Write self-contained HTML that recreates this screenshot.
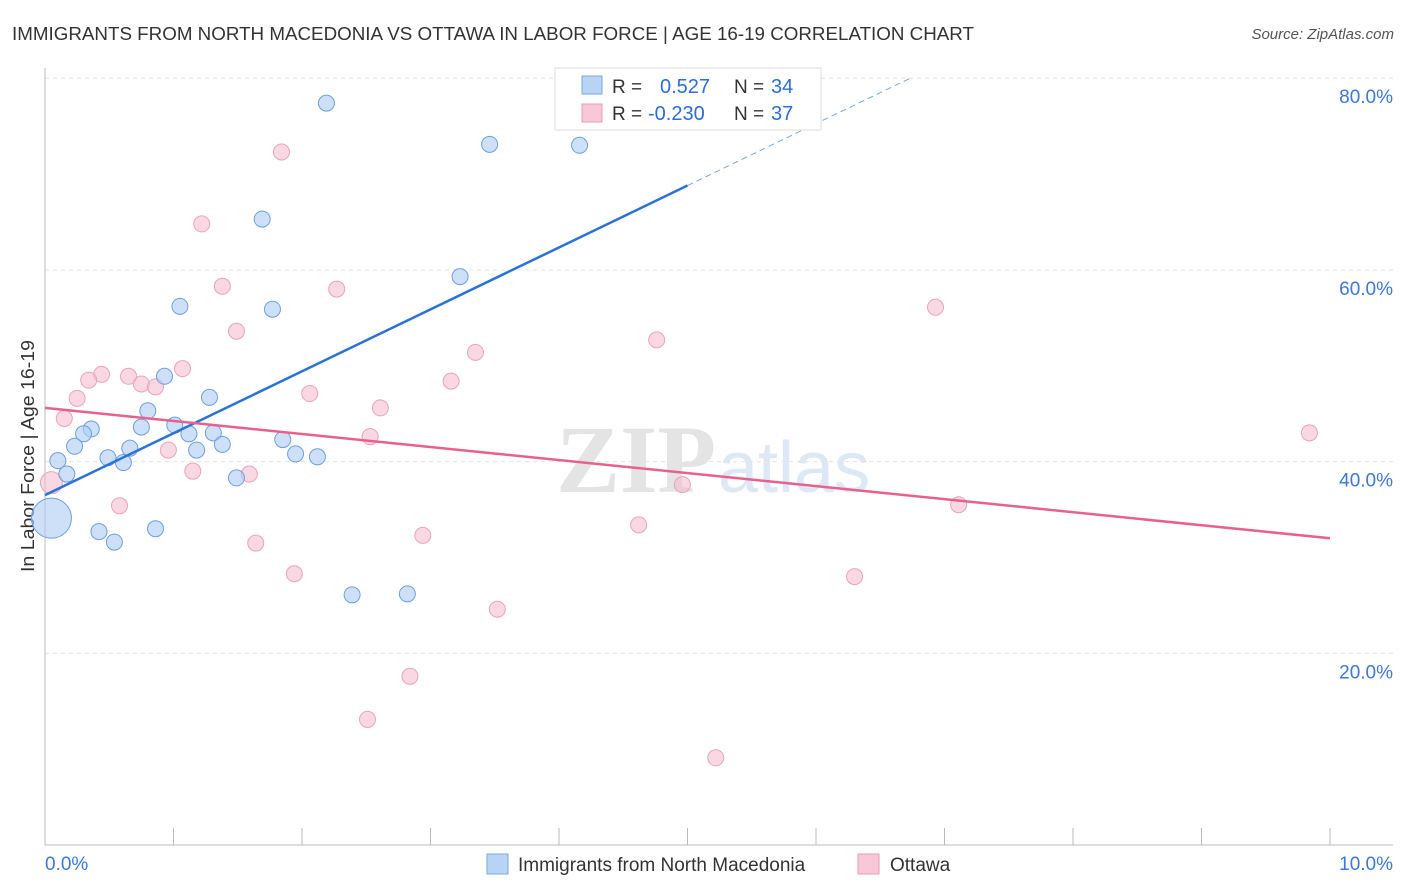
<!DOCTYPE html>
<html><head><meta charset="utf-8"><style>
body{margin:0;background:#fff;font-family:"Liberation Sans",sans-serif;}
svg{display:block}
</style></head><body>
<svg id="chart" width="1406" height="892">
<text x="12" y="40" font-size="18" fill="#333" textLength="962" lengthAdjust="spacingAndGlyphs">IMMIGRANTS FROM NORTH MACEDONIA VS OTTAWA IN LABOR FORCE | AGE 16-19 CORRELATION CHART</text>
<text x="1394" y="39" font-size="15" fill="#555" text-anchor="end" font-style="italic">Source: ZipAtlas.com</text>
<text x="34" y="456" font-size="18" fill="#333" text-anchor="middle" textLength="232" lengthAdjust="spacingAndGlyphs" transform="rotate(-90 34 456)">In Labor Force | Age 16-19</text>
<text x="716" y="492" font-size="96" fill="#e4e4e4" text-anchor="end" font-family="Liberation Serif,serif" font-weight="bold">ZIP</text>
<text x="718" y="492" font-size="72" fill="#dde8f6">atlas</text>
<g id="grid"></g><g id="marks"></g>
<g>
<rect x="555" y="68" width="266" height="62" fill="#fff" stroke="#ddd"/>
<rect x="582" y="76" width="20" height="18" fill="#b8d4f5" stroke="#7aa8e3"/>
<rect x="582" y="104" width="20" height="18" fill="#f8c8d8" stroke="#e99bb4"/>
<text x="612" y="93" font-size="19" fill="#333">R =</text><text x="660" y="93" font-size="20" fill="#2a6fd6">0.527</text>
<text x="734" y="93" font-size="19" fill="#333">N =</text><text x="771" y="93" font-size="20" fill="#2a6fd6">34</text>
<text x="612" y="120" font-size="19" fill="#333">R =</text><text x="648" y="120" font-size="20" fill="#2a6fd6">-0.230</text>
<text x="734" y="120" font-size="19" fill="#333">N =</text><text x="771" y="120" font-size="20" fill="#2a6fd6">37</text>
</g>
<g>
<rect x="487" y="854" width="21" height="20" fill="#b8d4f5" stroke="#7aa8e3"/>
<text x="518" y="871" font-size="19" fill="#333">Immigrants from North Macedonia</text>
<rect x="858" y="854" width="21" height="20" fill="#f8c8d8" stroke="#e99bb4"/>
<text x="890" y="871" font-size="19" fill="#333">Ottawa</text>
</g>
</svg>
<script>
const blueX=[2.19,3.46,4.16,1.69,3.23,1.05,1.77,0.93,1.28,0.80,1.01,0.36,0.75,0.30,1.12,1.31,0.23,0.66,1.18,1.38,1.85,0.10,0.49,0.61,1.95,2.12,0.17,1.49,0.05,0.42,0.86,0.54,2.39,2.82];
const blueY=[77.4,73.1,73.0,65.3,59.3,56.2,55.9,48.9,46.7,45.3,43.8,43.4,43.6,42.9,42.9,43.0,41.6,41.4,41.2,41.8,42.3,40.1,40.4,39.9,40.8,40.5,38.7,38.3,34.1,32.7,33.0,31.6,26.1,26.2];
const pinkX=[1.84,1.22,1.38,2.27,1.49,6.93,4.76,3.35,1.07,0.44,0.65,0.34,0.75,0.86,3.16,0.25,2.06,0.15,2.61,2.53,0.96,1.15,1.59,0.05,4.96,0.58,7.11,9.84,4.62,2.94,1.64,1.94,6.30,3.52,2.84,2.51,5.22];
const pinkY=[72.3,64.8,58.3,58.0,53.6,56.1,52.7,51.4,49.7,49.1,48.9,48.5,48.1,47.8,48.4,46.6,47.1,44.5,45.6,42.6,41.2,39.0,38.7,37.8,37.6,35.4,35.5,43.0,33.4,32.3,31.5,28.3,28.0,24.6,17.6,13.1,9.1];
const yTicks=[20,40,60,80];
const xTickLabels=["0.0%","10.0%"];
const blueLine=[36.5,6.46];
const pinkLine=[45.6,-1.36];
const sx=v=>45+v*128.5, sy=v=>845-v*9.585;
const NS="http://www.w3.org/2000/svg";
function mk(tag,attrs,parent,text){const e=document.createElementNS(NS,tag);for(const k in attrs)e.setAttribute(k,attrs[k]);if(text!==undefined)e.textContent=text;parent.appendChild(e);return e;}
const grid=document.getElementById('grid'),marks=document.getElementById('marks');
yTicks.forEach(t=>{
 const l=mk('line',{x1:45,x2:1393,y1:sy(t),y2:sy(t),stroke:'#e2e2e2','stroke-dasharray':'4,4'},grid);
 
 
 const tx=mk('text',{x:1393,y:sy(t)+25,'font-size':19,fill:'#3b78d8','text-anchor':'end'},grid,t.toFixed(1)+'%');
 
 
});
mk('line',{x1:45,x2:45,y1:68,y2:845,stroke:'#bbb'},grid);
mk('line',{x1:45,x2:1393,y1:845,y2:845,stroke:'#bbb'},grid);
for(let i=0;i<=10;i++){const t=mk('line',{x1:sx(i),x2:sx(i),y1:828,y2:845,stroke:'#bbb'},grid);
 
 }
const xl0=mk('text',{x:45,y:870,'font-size':19,fill:'#3b78d8'},grid,xTickLabels[0]);


const xl1=mk('text',{x:1393,y:870,'font-size':19,fill:'#3b78d8','text-anchor':'end'},grid,xTickLabels[1]);


pinkX.forEach((x,i)=>{const c=mk('circle',{cx:sx(x),cy:sy(pinkY[i]),r:i==23?11:8,fill:'rgba(246,184,204,0.55)',stroke:'#eba3bb','stroke-width':1},marks);
 
 });
blueX.forEach((x,i)=>{const c=mk('circle',{cx:sx(x),cy:sy(blueY[i]),r:i==28?20:8,fill:'rgba(174,204,243,0.6)',stroke:'#6d9fe0','stroke-width':1},marks);
 
 });
const bl=mk('line',{x1:sx(0),y1:sy(blueLine[0]),x2:sx(5),y2:sy(blueLine[0]+5*blueLine[1]),stroke:'#2a72d8','stroke-width':2.5},marks);


const bd=mk('line',{x1:sx(5),y1:sy(blueLine[0]+5*blueLine[1]),x2:sx(6.73),y2:sy(blueLine[0]+6.73*blueLine[1]),stroke:'#7aa8e3','stroke-width':1,'stroke-dasharray':'6,4'},marks);


const pl=mk('line',{x1:sx(0),y1:sy(pinkLine[0]),x2:sx(10),y2:sy(pinkLine[0]+10*pinkLine[1]),stroke:'#e8608e','stroke-width':2.5},marks);


</script>
</body></html>
